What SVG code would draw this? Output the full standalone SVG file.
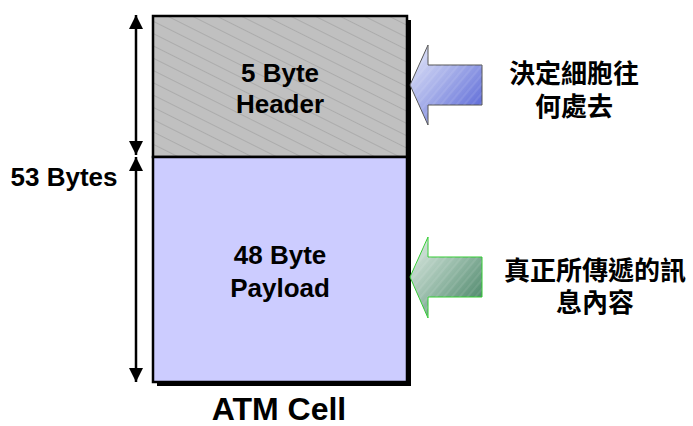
<svg xmlns="http://www.w3.org/2000/svg" width="693" height="426" viewBox="0 0 693 426">
  <defs>
    <pattern id="hatch" patternUnits="userSpaceOnUse" width="11" height="11" patternTransform="rotate(26.57)">
      <line x1="0" y1="5.5" x2="11" y2="5.5" stroke="#969696" stroke-width="0.5"/>
    </pattern>
    <pattern id="shine" patternUnits="userSpaceOnUse" width="6" height="6" patternTransform="rotate(-50)">
      <line x1="0" y1="3" x2="6" y2="3" stroke="#ffffff" stroke-opacity="0.25" stroke-width="0.7"/>
    </pattern>
    <linearGradient id="blueFill" x1="0" y1="0" x2="1" y2="1">
      <stop offset="0" stop-color="#e8ebfa"/>
      <stop offset="0.45" stop-color="#a6afe9"/>
      <stop offset="1" stop-color="#4d5bd4"/>
    </linearGradient>
    <linearGradient id="greenFill" x1="0" y1="0" x2="1" y2="1">
      <stop offset="0" stop-color="#e4eee8"/>
      <stop offset="0.45" stop-color="#9dbfae"/>
      <stop offset="1" stop-color="#3a7a5a"/>
    </linearGradient>
    <marker id="head" viewBox="0 0 14 14" refX="14" refY="7" markerWidth="14" markerHeight="14" markerUnits="userSpaceOnUse" orient="auto-start-reverse">
      <path d="M0,0 L14,7 L0,14 Z" fill="#000"/>
    </marker>
  </defs>
  <style>
    .lbl { font-family: "Liberation Sans", Arial, sans-serif; font-weight: bold; fill: #000; text-anchor: middle; }
    .cjk { font-family: "Liberation Sans", "Noto Sans CJK TC", sans-serif; font-weight: bold; font-size: 26px; fill: #000; text-anchor: middle; }
    .dim { stroke: #000; stroke-width: 2.5; fill: none; marker-start: url(#head); marker-end: url(#head); }
  </style>

  <!-- cell body: shadow, header and payload -->
  <g id="cell">
    <rect x="157" y="20" width="254" height="366" fill="#000"/>
    <g id="header">
      <rect x="153" y="16" width="254" height="141" fill="#c0c0c0"/>
      <rect x="153" y="16" width="254" height="141" fill="url(#hatch)"/>
      <rect x="153" y="16" width="254" height="141" fill="none" stroke="#000" stroke-width="2.5"/>
      <text class="lbl" x="280" y="82" font-size="26">5 Byte</text>
      <text class="lbl" x="280" y="113" font-size="26">Header</text>
    </g>
    <g id="payload">
      <rect x="153" y="157" width="254" height="225" fill="#ccccff" stroke="#000" stroke-width="2.5"/>
      <text class="lbl" x="280" y="264" font-size="26">48 Byte</text>
      <text class="lbl" x="280" y="297" font-size="26">Payload</text>
    </g>
  </g>

  <!-- size markers -->
  <g id="connectors">
    <line class="dim" x1="136" y1="15" x2="136" y2="155"/>
    <line class="dim" x1="136" y1="157" x2="136" y2="382"/>
  </g>

  <g id="size-label">
    <text class="lbl" x="64" y="186" font-size="26">53 Bytes</text>
  </g>

  <g id="cell-title">
    <text class="lbl" x="279" y="420" font-size="32">ATM Cell</text>
  </g>

  <!-- pointer to header -->
  <g id="header-pointer">
    <path d="M410,85 L428,45 L428,65 L482,65 L482,105 L428,105 L428,125 Z" fill="url(#blueFill)" stroke="#555" stroke-width="1"/>
    <path d="M410,85 L428,45 L428,65 L482,65 L482,105 L428,105 L428,125 Z" fill="url(#shine)"/>
    <text class="cjk" x="574" y="83">決定細胞往</text>
    <text class="cjk" x="574" y="116">何處去</text>
  </g>

  <!-- pointer to payload -->
  <g id="payload-pointer">
    <path d="M410,277 L428,237 L428,257 L482,257 L482,297 L428,297 L428,318 Z" fill="url(#greenFill)" stroke="#33cc33" stroke-width="1"/>
    <path d="M410,277 L428,237 L428,257 L482,257 L482,297 L428,297 L428,318 Z" fill="url(#shine)"/>
    <text class="cjk" x="595" y="280">真正所傳遞的訊</text>
    <text class="cjk" x="595" y="312">息內容</text>
  </g>
</svg>
